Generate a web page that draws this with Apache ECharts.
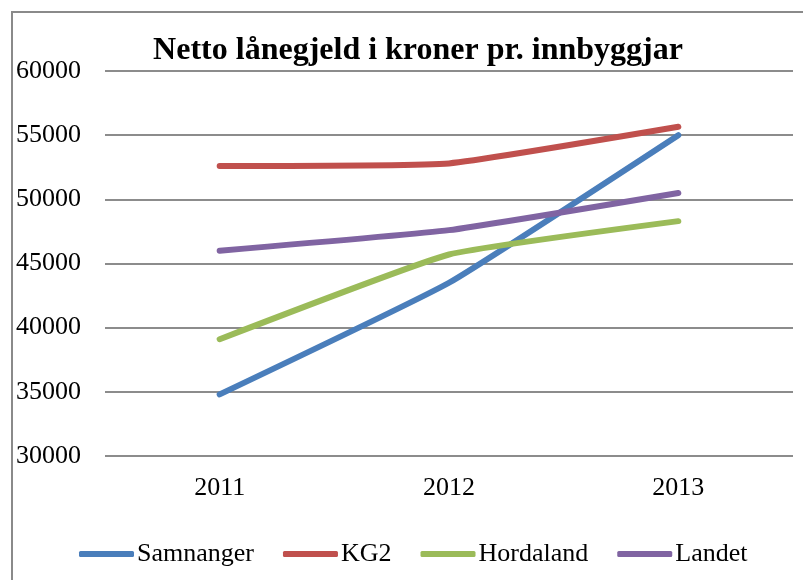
<!DOCTYPE html>
<html>
<head>
<meta charset="utf-8">
<script src="https://cdn.jsdelivr.net/npm/echarts@6/dist/echarts.min.js"></script>
<style>
html,body{margin:0;padding:0;background:#fff;}
#frame{position:absolute;left:11px;top:11px;width:900px;height:700px;border-left:2px solid #8a8a8a;border-top:2px solid #8a8a8a;}
#chart{position:absolute;left:0;top:0;width:803px;height:580px;}
</style>
</head>
<body>
<div id="frame"></div>
<div id="chart"></div>
<script>
var years = ['2011', '2012', '2013'];
var samnanger = [34800, 43500, 55000];
var kg2 = [52600, 52800, 55650];
var hordaland = [39100, 45700, 48300];
var landet = [46000, 47600, 50500];
var seriesNames = ['Samnanger', 'KG2', 'Hordaland', 'Landet'];
var seriesColors = ['#4a7ebb', '#c0504d', '#9bbb59', '#8064a2'];

var font = '"Liberation Serif", "Times New Roman", serif';
var myChart = echarts.init(document.getElementById('chart'));

function line(name, data, color) {
	return {
		name: name,
		type: 'line',
		data: data,
		smooth: 0.12,
		symbol: 'none',
		lineStyle: { width: 6, color: color, cap: 'round' },
		itemStyle: { color: color }
	};
}

myChart.setOption({
	backgroundColor: 'transparent',
	animation: false,
	title: {
		text: 'Netto lånegjeld i kroner pr. innbyggjar',
		left: 413,
		top: 30,
		textAlign: 'center',
		textStyle: { fontFamily: font, fontSize: 32, fontWeight: 'bold', color: '#000' }
	},
	legend: {
		left: 74,
		top: 536,
		icon: 'roundRect',
		itemWidth: 55,
		itemHeight: 6,
		itemGap: 29,
		data: seriesNames,
		textStyle: { fontFamily: font, fontSize: 26, color: '#000', padding: [0, 0, 0, -2] }
	},
	grid: { left: 105, right: 10, top: 71, bottom: 124, containLabel: false },
	xAxis: {
		type: 'category',
		data: years,
		boundaryGap: true,
		axisLine: { show: false },
		axisTick: { show: false },
		axisLabel: { fontFamily: font, fontSize: 26, color: '#000', margin: 19 }
	},
	yAxis: {
		type: 'value',
		min: 30000,
		max: 60000,
		interval: 5000,
		axisLine: { show: false },
		axisTick: { show: false },
		axisLabel: { fontFamily: font, fontSize: 26, color: '#000', margin: 24, formatter: function (v) { return String(v); } },
		splitLine: { lineStyle: { color: '#8c8c8c', width: 2 } }
	},
	series: [
		line(seriesNames[0], samnanger, seriesColors[0]),
		line(seriesNames[1], kg2, seriesColors[1]),
		line(seriesNames[2], hordaland, seriesColors[2]),
		line(seriesNames[3], landet, seriesColors[3])
	]
});
</script>
</body>
</html>
